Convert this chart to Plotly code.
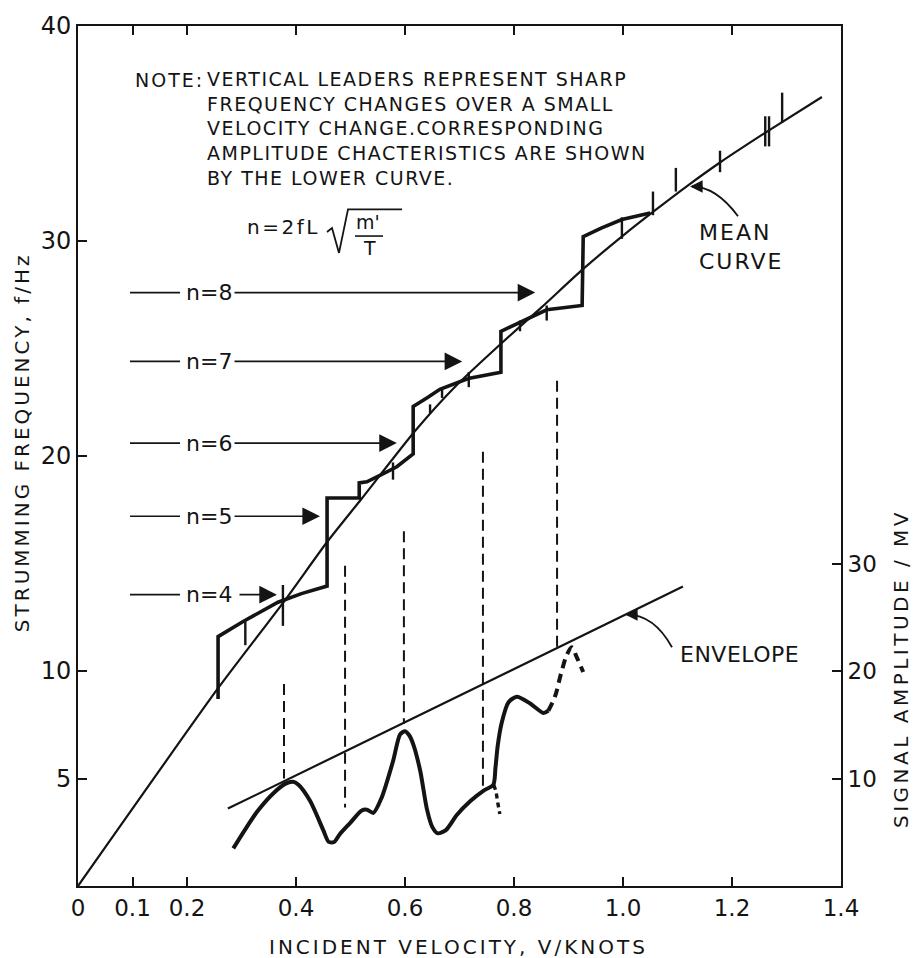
import plotly.graph_objects as go

# ---------------- data ----------------
# Mean strumming-frequency curve (f in Hz vs incident velocity in knots)
mean_v = [0.0, 0.257, 0.38, 0.457, 0.52, 0.618, 0.695, 0.775, 0.85, 0.927,
          1.0, 1.055, 1.12, 1.178, 1.265, 1.365]
mean_f = [0.0, 9.2, 13.3, 16.0, 18.0, 21.15, 23.3, 25.2, 26.9, 28.7,
          30.25, 31.35, 32.6, 33.65, 35.1, 36.7]

# Measured (stepped) strumming frequency
step_v = [0.257, 0.257, 0.303, 0.367, 0.41, 0.453, 0.457, 0.457, 0.516, 0.516,
          0.530, 0.554, 0.585, 0.615, 0.615, 0.640, 0.664, 0.716, 0.776, 0.776,
          0.811, 0.860, 0.925, 0.927, 0.960, 0.998, 1.050]
step_f = [8.7, 11.6, 12.3, 13.2, 13.6, 13.9, 13.95, 18.05, 18.05, 18.75,
          18.8, 19.1, 19.5, 20.1, 22.3, 22.7, 23.1, 23.6, 23.9, 25.8,
          26.2, 26.8, 27.0, 30.2, 30.6, 31.0, 31.3]

# Vertical leaders: sharp frequency changes over a small velocity change
lead_v = [0.307, 0.376, 0.578, 0.646, 0.668, 0.717, 0.811, 0.860,
          0.998, 1.055, 1.097, 1.178, 1.261, 1.268, 1.292]
lead_lo = [11.2, 12.1, 18.9, 22.0, 22.7, 23.2, 25.8, 26.3,
           30.1, 31.2, 32.3, 33.2, 34.4, 34.4, 35.5]
lead_hi = [12.3, 14.0, 19.7, 22.4, 23.2, 23.9, 26.3, 27.0,
           31.1, 32.3, 33.4, 34.2, 35.8, 35.8, 36.9]

# Mode numbers and the frequency step each arrow points at
mode_n = [4, 5, 6, 7, 8]
mode_f = [13.55, 17.2, 20.6, 24.4, 27.6]
mode_tip = [0.365, 0.444, 0.585, 0.705, 0.839]

# Dashed lines linking frequency jumps to amplitude peaks (in Hz units)
corr_v = [0.378, 0.49, 0.598, 0.743, 0.879]
corr_top = [9.4, 14.9, 16.5, 20.2, 23.5]
corr_bot = [5.0, 3.65, 7.55, 4.55, 11.1]

# Signal amplitude (mV), right-hand scale
amp_v = [0.285, 0.306, 0.33, 0.36, 0.38, 0.395, 0.405, 0.426, 0.45, 0.46,
         0.47, 0.48, 0.50, 0.52, 0.53, 0.542, 0.557, 0.578, 0.591, 0.600,
         0.608, 0.615, 0.628, 0.64, 0.65, 0.66, 0.675, 0.695, 0.72, 0.745,
         0.762, 0.766, 0.77, 0.777, 0.79, 0.805, 0.829, 0.854, 0.863]
amp_a = [3.5, 5.2, 7.0, 8.7, 9.5, 9.7, 9.4, 7.9, 5.2, 4.1,
         4.1, 4.8, 5.9, 7.0, 7.1, 6.8, 8.2, 11.6, 14.1, 14.4,
         14.0, 13.2, 10.7, 7.2, 5.5, 4.9, 5.2, 6.6, 7.9, 8.9,
         9.4, 11.0, 13.0, 15.1, 17.1, 17.6, 17.0, 16.1, 16.3]
tail_v = [0.763, 0.767, 0.770, 0.774]
tail_a = [9.4, 8.8, 7.8, 6.7]
ext_v = [0.863, 0.875, 0.887, 0.897, 0.906, 0.915, 0.927]
ext_a = [16.3, 17.6, 19.9, 21.5, 22.2, 21.3, 19.9]
env_v = [0.275, 1.11]
env_a = [7.2, 27.85]

x_ticks = [0, 0.1, 0.2, 0.4, 0.6, 0.8, 1.0, 1.2, 1.4]
x_labels = ["0", "0.1", "0.2", "0.4", "0.6", "0.8", "1.0", "1.2", "1.4"]
f_ticks = [5, 10, 20, 30, 40]
amp_ticks = [10, 20, 30]

# ---------------- styling ----------------
INK = "#141414"
FONT = "DejaVu Sans"
PLOT_L, PLOT_R, PLOT_T, PLOT_B = 78, 841, 18, 886


def at(px, py):
    """Figure pixel offset -> (velocity, frequency) axis units for decorations."""
    return ((px - PLOT_L) / (PLOT_R - PLOT_L) * 1.4,
            (PLOT_B - py) / (PLOT_B - PLOT_T) * 40)


def paper(px, py):
    """Figure pixel offset -> paper fraction (for text outside the axes)."""
    return ((px - PLOT_L) / (PLOT_R - PLOT_L),
            (PLOT_B - py) / (PLOT_B - PLOT_T))


def spaced(text, sp):
    lines = text.split("<br>")
    return "<br>".join(f'<span style="letter-spacing:{sp}px">{ln}</span>' for ln in lines)


def label(px, py, text, size, xanchor="center", yanchor="middle", angle=0, sp=0,
          align="left", ref="x"):
    if ref == "paper":
        x, y = paper(px, py)
        xr, yr = "paper", "paper"
    else:
        x, y = at(px, py)
        xr, yr = "x", "y"
    return dict(x=x, y=y, xref=xr, yref=yr, text=spaced(text, sp) if sp else text,
                showarrow=False, font=dict(family=FONT, size=size, color=INK),
                xanchor=xanchor, yanchor=yanchor, textangle=angle, align=align)


def segs(xs0, ys0, xs1, ys1):
    X, Y = [], []
    for a, b, c, d in zip(xs0, ys0, xs1, ys1):
        X += [a, c, None]
        Y += [b, d, None]
    return X, Y


fig = go.Figure()

# mean curve
fig.add_trace(go.Scatter(x=mean_v, y=mean_f, mode="lines",
                         line=dict(color=INK, width=2.2, shape="spline", smoothing=0.6)))
# stepped measured frequency
fig.add_trace(go.Scatter(x=step_v, y=step_f, mode="lines",
                         line=dict(color=INK, width=3.6)))
# vertical leaders
lx, ly = segs(lead_v, lead_lo, lead_v, lead_hi)
fig.add_trace(go.Scatter(x=lx, y=ly, mode="lines", line=dict(color=INK, width=2.4)))
# dashed correspondence lines
cx, cy = segs(corr_v, corr_top, corr_v, corr_bot)
fig.add_trace(go.Scatter(x=cx, y=cy, mode="lines",
                         line=dict(color=INK, width=2, dash="11px,6px")))
# short lead-in strokes before each mode label
stub_x0 = [at(130, 0)[0]] * len(mode_f)
stub_x1 = [at(180, 0)[0]] * len(mode_f)
sx, sy = segs(stub_x0, mode_f, stub_x1, mode_f)
fig.add_trace(go.Scatter(x=sx, y=sy, mode="lines", line=dict(color=INK, width=1.6)))

# amplitude curves on the right-hand scale
fig.add_trace(go.Scatter(x=amp_v, y=amp_a, yaxis="y2", mode="lines",
                         line=dict(color=INK, width=4, shape="spline", smoothing=0.7)))
fig.add_trace(go.Scatter(x=tail_v, y=tail_a, yaxis="y2", mode="lines",
                         line=dict(color=INK, width=3.4, dash="5px,4px")))
fig.add_trace(go.Scatter(x=ext_v, y=ext_a, yaxis="y2", mode="lines",
                         line=dict(color=INK, width=4, dash="9px,6px", shape="spline")))
fig.add_trace(go.Scatter(x=env_v, y=env_a, yaxis="y2", mode="lines",
                         line=dict(color=INK, width=2.2)))

ann = []
shapes = []

# mode labels with arrows
arrow_start = at(233, 0)[0]
for n, f, tip in zip(mode_n, mode_f, mode_tip):
    ann.append(dict(x=at(208.5, 0)[0], y=f, xref="x", yref="y", text=f"n={n}",
                    showarrow=False, font=dict(family=FONT, size=22, color=INK)))
    start = at(238, 0)[0] if n == 4 else arrow_start
    ann.append(dict(x=tip, y=f, ax=start, ay=f, xref="x", yref="y", axref="x", ayref="y",
                    text="", showarrow=True, arrowhead=2, arrowsize=2.2, arrowwidth=1.6,
                    arrowcolor=INK, standoff=0, startstandoff=0))

# note block
ann.append(label(133, 72, "NOTE:", 19, xanchor="left", sp=2))
ann.append(label(205, 121.5,
                 "VERTICAL LEADERS REPRESENT SHARP<br>"
                 "FREQUENCY CHANGES OVER A SMALL<br>"
                 "VELOCITY CHANGE.CORRESPONDING<br>"
                 "AMPLITUDE CHACTERISTICS ARE SHOWN<br>"
                 "BY THE LOWER CURVE.", 19, xanchor="left", sp=1.5))

# formula n = 2 f L sqrt(m'/T)
ann.append(label(245, 221, "n=2fL", 20, xanchor="left", sp=2.5))
ann.append(label(368, 216, "m'", 19))
ann.append(label(369, 242, "T", 19))
rad = [at(327, 226), at(332, 222), at(339, 247), at(348, 203), at(402, 203)]
shapes.append(dict(type="path", xref="x", yref="y",
                   path="M " + " L ".join(f"{x},{y}" for x, y in rad),
                   line=dict(color=INK, width=1.8)))
b0, b1 = at(355, 230), at(383, 230)
shapes.append(dict(type="line", xref="x", yref="y", x0=b0[0], y0=b0[1], x1=b1[0], y1=b1[1],
                   line=dict(color=INK, width=1.6)))

# mean curve label and its leader
ann.append(label(697, 241, "MEAN<br>CURVE", 22, xanchor="left", sp=2))
p0, c0, p1 = at(692, 180), at(716, 180), at(738, 210)
shapes.append(dict(type="path", xref="x", yref="y",
                   path=f"M {p0[0]},{p0[1]} Q {c0[0]},{c0[1]} {p1[0]},{p1[1]}",
                   line=dict(color=INK, width=1.8)))
t0, t1 = at(690, 180), at(704, 180)
ann.append(dict(x=t0[0], y=t0[1], ax=t1[0], ay=t1[1], xref="x", yref="y", axref="x", ayref="y",
                text="", showarrow=True, arrowhead=2, arrowsize=1.4, arrowwidth=1.8,
                arrowcolor=INK, standoff=0))

# envelope label and its leader
ann.append(label(678, 652, "ENVELOPE", 22, xanchor="left", sp=0.5))
q0, d0, q1 = at(627, 612), at(654, 612), at(672, 645)
shapes.append(dict(type="path", xref="x", yref="y",
                   path=f"M {q0[0]},{q0[1]} Q {d0[0]},{d0[1]} {q1[0]},{q1[1]}",
                   line=dict(color=INK, width=1.8)))
e0, e1 = at(625, 612), at(639, 612)
ann.append(dict(x=e0[0], y=e0[1], ax=e1[0], ay=e1[1], xref="x", yref="y", axref="x", ayref="y",
                text="", showarrow=True, arrowhead=2, arrowsize=1.4, arrowwidth=1.8,
                arrowcolor=INK, standoff=0))

# axis titles
ann.append(label(458, 948, "INCIDENT VELOCITY, V/KNOTS", 20, sp=3, ref="paper"))
ann.append(label(22, 438, "STRUMMING FREQUENCY, f/Hz", 20, angle=-90, sp=3, ref="paper"))
ann.append(label(901, 667, "SIGNAL AMPLITUDE / MV", 20, angle=-90, sp=3.5, ref="paper"))

axis_common = dict(ticks="inside", ticklen=9, tickwidth=2, tickcolor=INK,
                   showline=True, linewidth=2, linecolor=INK,
                   showgrid=False, zeroline=False)

fig.update_layout(
    width=921, height=958,
    margin=dict(l=PLOT_L, r=921 - PLOT_R, t=PLOT_T, b=958 - PLOT_B),
    paper_bgcolor="white", plot_bgcolor="white",
    showlegend=False,
    font=dict(family=FONT, color=INK),
    xaxis=dict(range=[0, 1.4], tickvals=x_ticks, ticktext=x_labels, mirror="ticks",
               tickfont=dict(family=FONT, size=23, color=INK), **axis_common),
    yaxis=dict(range=[0, 40], tickvals=f_ticks,
               tickfont=dict(family=FONT, size=24, color=INK), **axis_common),
    yaxis2=dict(range=[0, 80], tickvals=amp_ticks, overlaying="y", side="right",
                tickfont=dict(family=FONT, size=23, color=INK), **axis_common),
    annotations=ann,
    shapes=shapes,
)

fig.write_html("out.html")
